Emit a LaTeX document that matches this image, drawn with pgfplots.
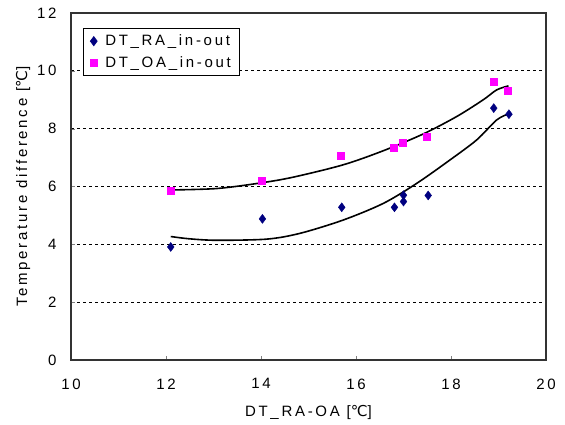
\documentclass[border=0pt]{standalone}
\usepackage{fontspec}
\setmainfont{Liberation Sans}[LetterSpace=18]
\newfontfamily\dejavu{DejaVu Sans}
\usepackage{pgfplots}
\pgfplotsset{compat=1.18}

\definecolor{ranavy}{HTML}{000080}
\definecolor{oapink}{HTML}{FF00FF}

\begin{document}
\begin{tikzpicture}
\begin{axis}[
  name=main,
  at={(71pt,64pt)}, anchor=south west,
  scale only axis,
  width=475pt, height=347pt,
  xmin=10, xmax=20, ymin=0, ymax=12,
  xtick={10,12,...,20}, ytick={0,2,...,12},
  /pgf/number format/assume math mode=true,
  tick label style={font=\fontsize{15pt}{17pt}\selectfont},
  xticklabel style={yshift=-15pt},
  yticklabel style={xshift=-11pt},
  tick align=inside, major tick length=4pt,
  xtick pos=bottom, ytick pos=left,
  axis line style={line width=1.2pt, black!80},
  ymajorgrids, grid style={black, dashed, line width=0.8pt},
  xlabel={DT\_RA-OA [{\dejavu ℃}]},
  ylabel={Temperature difference [{\dejavu ℃}]},
  label style={font=\fontsize{15pt}{17pt}\selectfont},
  xlabel style={yshift=-9pt},
  ylabel style={yshift=0pt},
  legend style={at={(0.025,0.958)}, anchor=north west, draw=black, fill=white,
    line width=0.8pt, font=\fontsize{15pt}{17pt}\selectfont,
    row sep=5pt, inner xsep=7pt, inner ysep=5pt},
  legend cell align=left,
]
\addplot[only marks, mark=diamond*, mark size=4.5pt, color=ranavy] coordinates {
  (12.10,3.91) (14.03,4.88) (15.70,5.28) (16.81,5.28) (17.00,5.70)
  (17.00,5.48) (17.52,5.69) (18.90,8.71) (19.22,8.50)
};
\addlegendentry{\hspace{6pt}DT\_RA\_in-out}
\addplot[only marks, mark=square*, mark size=3.5pt, color=oapink] coordinates {
  (12.10,5.85) (14.01,6.19) (15.68,7.05) (16.79,7.33) (16.99,7.53)
  (17.49,7.71) (18.89,9.61) (19.20,9.32)
};
\addlegendentry{\hspace{6pt}DT\_OA\_in-out}
% trend lines
\addplot[black, line width=1.6pt, smooth, forget plot] coordinates {
  (12.09,5.88) (13.07,5.93) (13.98,6.12) (14.67,6.32) (15.73,6.75)
  (16.58,7.24) (17.42,7.82) (18.12,8.42) (18.68,9.00) (18.96,9.34) (19.21,9.48)
};
\addplot[black, line width=1.6pt, smooth, forget plot] coordinates {
  (12.10,4.27) (12.50,4.19) (13.07,4.14) (14.12,4.18) (14.82,4.38)
  (15.73,4.84) (16.58,5.42) (17.28,6.11) (17.98,6.92) (18.54,7.61)
  (18.96,8.30) (19.21,8.51)
};
\end{axis}
\path (0,0) rectangle (565pt,424pt);
\end{tikzpicture}
\end{document}
